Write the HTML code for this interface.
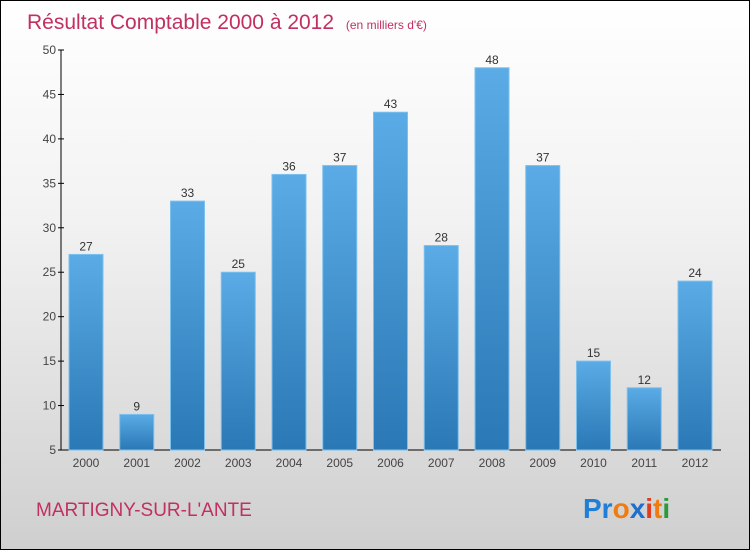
<!DOCTYPE html>
<html><head><meta charset="utf-8"><style>
body{margin:0}
#c{width:748px;height:548px;border:1px solid #000;background:linear-gradient(#ffffff,#f2f2f2 40%,#cfcfcf);position:relative;font-family:"Liberation Sans",sans-serif;overflow:hidden}
</style></head><body>
<div id="c">
<svg width="748" height="548">
<defs><linearGradient id="g" x1="0" y1="0" x2="0" y2="1"><stop offset="0" stop-color="#5aabe6"/><stop offset="1" stop-color="#2a78b5"/></linearGradient></defs>
<text x="26" y="28" font-size="21" fill="#c2305e">Résultat Comptable 2000 à 2012 <tspan font-size="12" dx="6">(en milliers d'€)</tspan></text>
<g id="plot"></g>
<text x="35" y="515" font-size="19" fill="#c2305e">MARTIGNY-SUR-L'ANTE</text>
<text x="582" y="517" font-size="28" font-weight="bold"><tspan fill="#1f7fd6">Pr</tspan><tspan fill="#f07c10">o</tspan><tspan fill="#1f6fcf">x</tspan><tspan fill="#e23b20">i</tspan><tspan fill="#f07c10">t</tspan><tspan fill="#2a9a3a">i</tspan></text>
</svg></div>
<script>
const years=["2000","2001","2002","2003","2004","2005","2006","2007","2008","2009","2010","2011","2012"];
const values=[27,9,33,25,36,37,43,28,48,37,15,12,24];
const yTicks=[5,10,15,20,25,30,35,40,45,50];
const NS="http://www.w3.org/2000/svg";
const g=document.getElementById("plot");
const y0=449,y1=49,vmin=5,vmax=50;
const yS=v=>y0-(v-vmin)/(vmax-vmin)*(y0-y1);
const xS=i=>85+i*50.75;
function mk(t,a,txt){const e=document.createElementNS(NS,t);for(const k in a)e.setAttribute(k,a[k]);if(txt!==undefined)e.textContent=txt;g.appendChild(e);return e;}
let ax=mk("line",{x1:60,y1:y1,x2:60,y2:y0,stroke:"#000"});


let bx=mk("line",{x1:60,y1:y0,x2:720,y2:y0,stroke:"#000"});


yTicks.forEach(v=>{
 let tk=mk("line",{x1:57,x2:63,y1:yS(v),y2:yS(v),stroke:"#000"});
 
 
 let t=mk("text",{x:55,y:yS(v)+4,"font-size":12,"text-anchor":"end",fill:"#444"},v);
 
 
});
years.forEach((yr,i)=>{
 const cx=xS(i),v=values[i];
 let r=mk("rect",{x:cx-17,y:yS(v),width:34,height:y0-yS(v),fill:"url(#g)",stroke:"#7cc0ee","stroke-width":1});
 
 
 let l=mk("text",{x:cx,y:yS(v)-4,"font-size":12,"text-anchor":"middle",fill:"#333"},v);
 
 
 let xt=mk("text",{x:cx,y:466,"font-size":12,"text-anchor":"middle",fill:"#444"},yr);
 
 
});
</script>
</body></html>
